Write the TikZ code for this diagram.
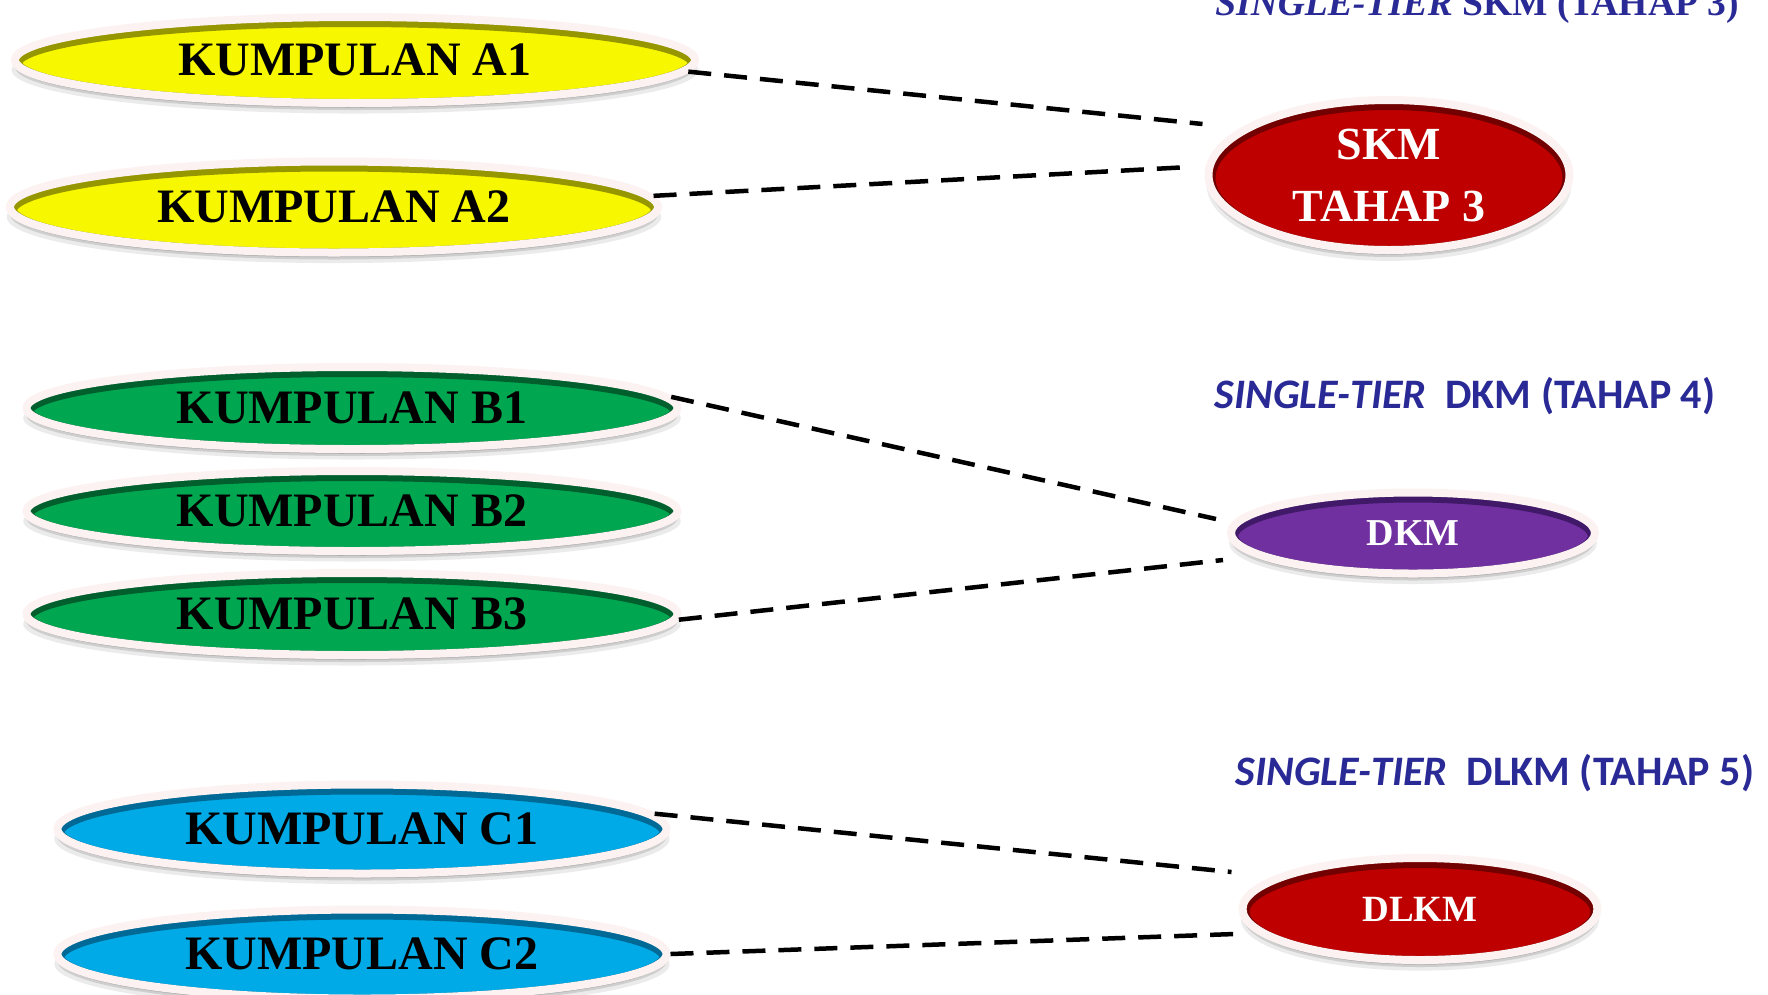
\documentclass[tikz,border=0pt]{standalone}
\usepackage{fontspec}
\setmainfont{Liberation Serif}
\newfontfamily\carl{Carlito}
\usetikzlibrary{shapes.geometric,shadows,calc}
\definecolor{ylw}{RGB}{247,247,0}
\definecolor{ylwrim}{RGB}{150,150,0}
\definecolor{grn}{RGB}{0,166,80}
\definecolor{grnrim}{RGB}{0,95,45}
\definecolor{blu}{RGB}{0,170,230}
\definecolor{blurim}{RGB}{0,105,150}
\definecolor{redc}{RGB}{190,0,0}
\definecolor{redrim}{RGB}{115,0,0}
\definecolor{purp}{RGB}{112,48,160}
\definecolor{purprim}{RGB}{65,25,105}
\definecolor{ringc}{RGB}{252,242,242}
\definecolor{titleblue}{RGB}{42,42,150}
\tikzset{
  oval/.style={ellipse, inner sep=0pt, line width=8pt, draw=ringc,
    drop shadow={shadow xshift=0pt, shadow yshift=-10pt, shadow scale=1.01, opacity=0.08, fill=black},
    drop shadow={shadow xshift=0pt, shadow yshift=-7pt, opacity=0.12, fill=black},
    drop shadow={shadow xshift=0pt, shadow yshift=-5pt, shadow scale=0.995, opacity=0.15, fill=black},
    font=\fontsize{48}{52}\selectfont\bfseries},
  rimmed/.style={path picture={
    \draw[line width=14pt, #1] let \p1=(path picture bounding box.north east),
      \p2=(path picture bounding box.south west) in
      ($(path picture bounding box.center)+(0pt,-3pt)$)
      ellipse [x radius={(\x1-\x2)/2}, y radius={(\y1-\y2)/2}];}},
  whitetxt/.style={text=white, align=center},
  conn/.style={draw=black, line width=4.5pt, dash pattern=on 23pt off 13pt},
  titletxt/.style={text=titleblue, anchor=base, inner sep=0pt}
}
\begin{document}
\begin{tikzpicture}[x=1pt,y=-1pt]
\useasboundingbox (0,0) rectangle (1768,994);
% titles
\node[titletxt, font=\fontsize{37.5}{40}\selectfont\bfseries] (t1) at (1477,15)
  {\textit{SINGLE-TIER} SKM (TAHAP 3)};
\node[titletxt, font=\carl\fontsize{42}{46}\selectfont\bfseries] (t2) at (1465,408)
  {\textit{SINGLE-TIER}\ \ DKM (TAHAP 4)};
\node[titletxt, font=\carl\fontsize{42}{46}\selectfont\bfseries] (t3) at (1495,785)
  {\textit{SINGLE-TIER}\ \ DLKM (TAHAP 5)};
% left ovals
\node[oval, fill=ylw, rimmed=ylwrim, minimum width=680pt, minimum height=86pt] (a1) at (355,60) {KUMPULAN A1};
\node[oval, fill=ylw, rimmed=ylwrim, minimum width=648pt, minimum height=91pt] (a2) at (334,207) {KUMPULAN A2};
\node[oval, fill=grn, rimmed=grnrim, minimum width=651pt, minimum height=82pt] (b1) at (352,408) {KUMPULAN B1};
\node[oval, fill=grn, rimmed=grnrim, minimum width=651pt, minimum height=80pt] (b2) at (352,511) {KUMPULAN B2};
\node[oval, fill=grn, rimmed=grnrim, minimum width=651pt, minimum height=82pt] (b3) at (352,614) {KUMPULAN B3};
\node[oval, fill=blu, rimmed=blurim, minimum width=609pt, minimum height=89pt] (c1) at (362,829) {KUMPULAN C1};
\node[oval, fill=blu, rimmed=blurim, minimum width=609pt, minimum height=89pt] (c2) at (362,954) {KUMPULAN C2};
% right ovals
\node[oval, fill=redc, rimmed=redrim, minimum width=361pt, minimum height=150pt, whitetxt,
  font=\fontsize{46}{62}\selectfont\bfseries] (skm) at (1389,175) {SKM\\TAHAP 3};
\node[oval, fill=purp, rimmed=purprim, minimum width=364pt, minimum height=81pt, whitetxt,
  font=\fontsize{38}{42}\selectfont\bfseries] (dkm) at (1413,533) {DKM};
\node[oval, fill=redc, rimmed=redrim, minimum width=355pt, minimum height=102pt, whitetxt,
  font=\fontsize{37}{42}\selectfont\bfseries] (dlkm) at (1420,909) {DLKM};
% connector ends
\coordinate (skmA) at ($(skm.west)+(-2,-51)$);
\coordinate (skmB) at ($(skm.west)+(-15,-8)$);
\coordinate (dkmA) at ($(dkm.west)+(-11,-14)$);
\coordinate (dkmB) at ($(dkm.west)+(-4,27)$);
\coordinate (dlkmA) at ($(dlkm.west)+(-7,-37)$);
\coordinate (dlkmB) at ($(dlkm.west)+(-4,25)$);
% connectors
\draw[conn] (a1.-2) -- (skmA);
\draw[conn] (a2.2.3) -- (skmB);
\draw[conn] (b1.2.5) -- (dkmA);
\draw[conn] (b3.-1) -- (dkmB);
\draw[conn] (c1.3.7) -- (dlkmA);
\draw[conn] (c2.east) -- (dlkmB);
\end{tikzpicture}
\end{document}
